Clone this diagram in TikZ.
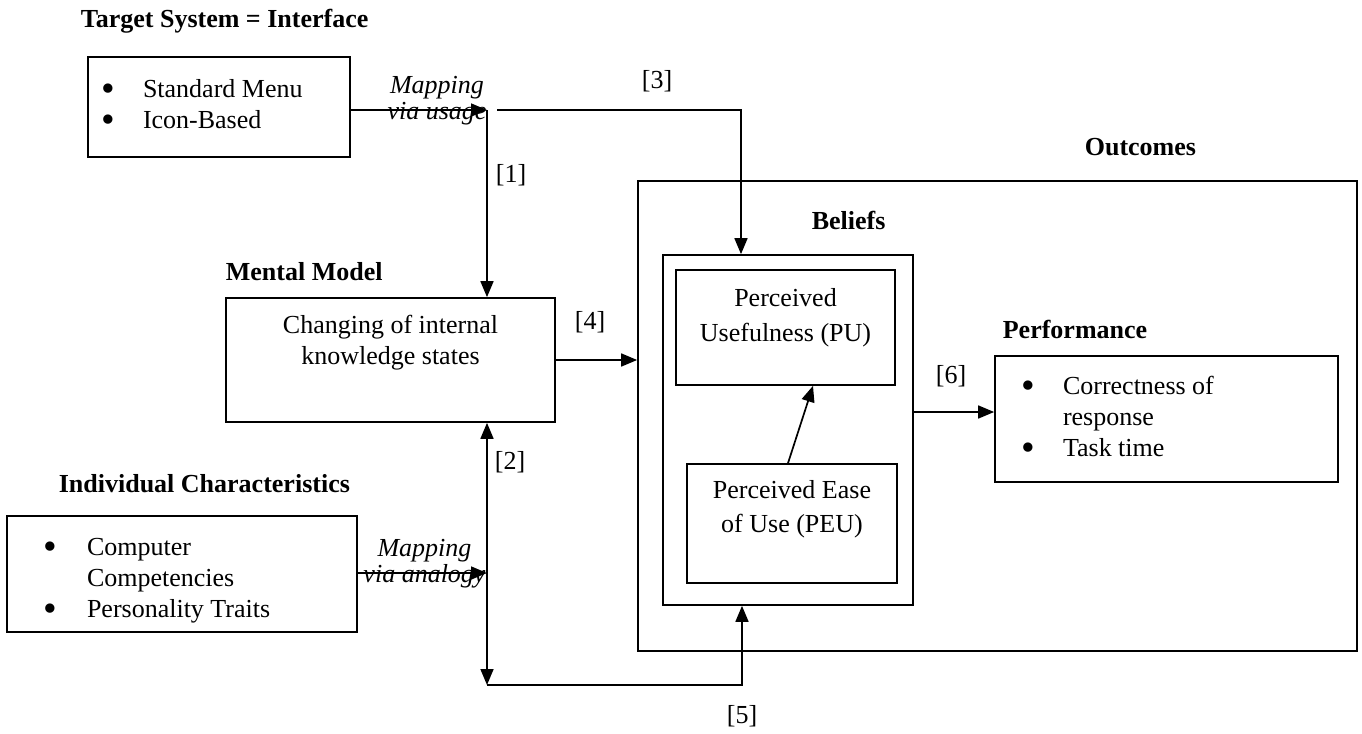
\documentclass[tikz,border=0pt]{standalone}
\usepackage{fontspec}
\setmainfont{Liberation Serif}
\usetikzlibrary{arrows.meta,positioning}
\newcommand{\blt}{\raisebox{-1.9pt}[0pt][0pt]{\scalebox{1.5}{\textbullet}}}

\begin{document}
\begin{tikzpicture}[x=0.5pt,y=-0.5pt,>={Triangle[length=8pt,width=6.5pt]},line width=0.85pt,
  font=\fontsize{13}{15.5}\selectfont,
  box/.style={draw,inner sep=0pt},
  title/.style={font=\fontsize{13}{15.5}\selectfont\bfseries,anchor=base west,inner sep=0pt},
  lbl/.style={inner sep=0pt},
  txt/.style={align=center,inner sep=0pt},
  list/.style={inner sep=0pt,anchor=west},
  map/.style={font=\fontsize{13}{13}\selectfont\itshape,align=center,inner sep=0pt}]
\useasboundingbox (0,0) rectangle (1362,734);

\node[title] (tstitle) at (80,27) {Target System = Interface};
\node[box,minimum width=131pt,minimum height=50pt] (ts) at (219,107) {};
\node[list,right=6.5pt of ts.west] (tslist) {\begin{tabular}{@{}p{21pt}@{}l@{}}\blt & Standard Menu\\ \blt & Icon-Based\end{tabular}};

\node[title] (mmtitle) at (225,280) {Mental Model};
\node[box,minimum width=164.5pt,minimum height=62pt] (mm) at (390.5,360) {};
\node[txt,below=8.5pt of mm.north] (mmtxt) {Changing of internal\\knowledge states};

\node[title] (ictitle) at (58,492) {Individual Characteristics};
\node[box,minimum width=175pt,minimum height=58pt] (ic) at (182,574) {};
\node[list,right=18pt of ic.west,yshift=-3pt] (iclist) {\begin{tabular}{@{}p{22pt}@{}l@{}}\blt & Computer\\ & Competencies\\ \blt & Personality Traits\end{tabular}};

\node[title] (outtitle) at (1084,155) {Outcomes};
\node[box,minimum width=359.5pt,minimum height=235pt] (out) at (997.5,416) {};

\node[title] (beltitle) at (811,229) {Beliefs};
\node[box,minimum width=125pt,minimum height=175pt] (bel) at (788,430) {};
\node[box,minimum width=109.5pt,minimum height=57.5pt] (pu) at (785.5,327.5) {};
\node[txt,font=\fontsize{13}{17.5}\selectfont,below=9pt of pu.north] (putxt) {Perceived\\Usefulness (PU)};
\node[box,minimum width=105pt,minimum height=59.5pt] (peu) at (792,523.5) {};
\node[txt,font=\fontsize{13}{17}\selectfont,below=8pt of peu.north] (peutxt) {Perceived Ease\\of Use (PEU)};

\node[title] (perftitle) at (1002,338) {Performance};
\node[box,minimum width=171.5pt,minimum height=63pt] (perf) at (1166.5,419) {};
\node[list,right=13pt of perf.west] (perflist) {\begin{tabular}{@{}p{21pt}@{}l@{}}\blt & Correctness of\\ & response\\ \blt & Task time\end{tabular}};

\node[map] (usagetxt) at (437,101) {Mapping\\via usage};
\node[map] (analogytxt) at (424.5,564) {Mapping\\via analogy};

\node[lbl] (l1) at (511,175) {[1]};
\node[lbl] (l2) at (510,462) {[2]};
\node[lbl] (l3) at (657,81) {[3]};
\node[lbl] (l4) at (590,322) {[4]};
\node[lbl] (l5) at (742,716) {[5]};
\node[lbl] (l6) at (951,376) {[6]};

\coordinate (usage) at (487,110);
\coordinate (turn3) at (741,110);
\coordinate (analogy) at (487,573);
\coordinate (bottom) at (487,685);
\coordinate (turn5) at (742,685);

\draw[->] (ts.east |- usage) -- (usage);
\draw[->] (usage) -- (usage |- mm.north);
\draw[->] ([xshift=5pt]usage) -- (turn3) -- (turn3 |- bel.north);
\draw[->] (ic.east |- analogy) -- (analogy);
\draw[<->] (analogy |- mm.south) -- (bottom);
\draw[->] (bottom) -- (turn5) -- (turn5 |- bel.south);
\draw[->] (mm.east) -- (mm.east -| out.west);
\draw[->] ([xshift=-2pt]peu.north) -- ([xshift=13.75pt]pu.south);
\draw[->] ([yshift=9pt]bel.east) -- ([yshift=9pt]bel.east -| perf.west);
\end{tikzpicture}
\end{document}
